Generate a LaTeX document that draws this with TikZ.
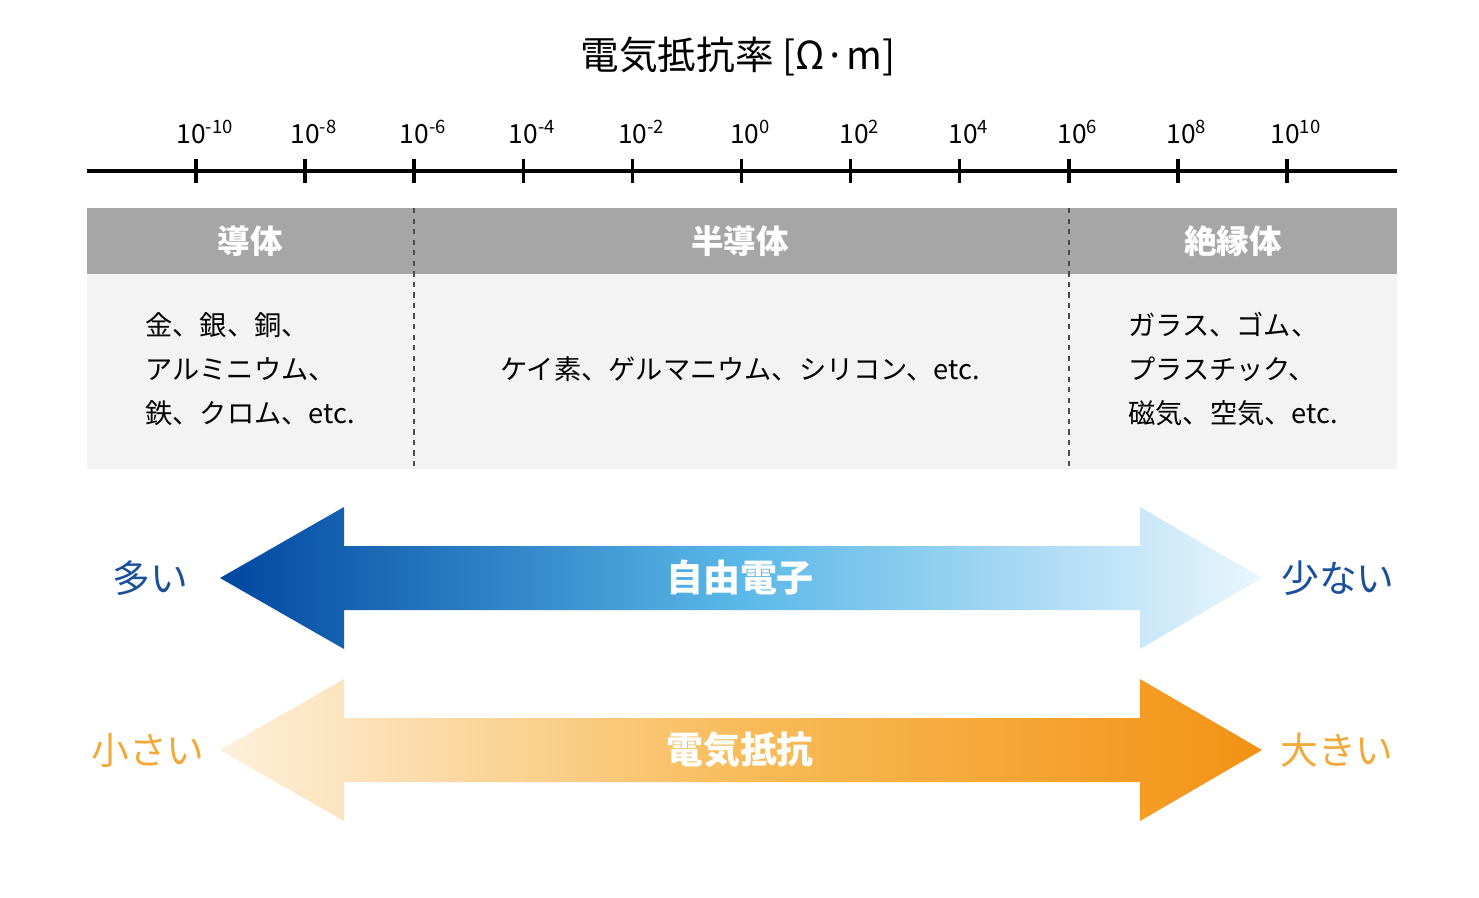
\documentclass[tikz,border=0pt]{standalone}
\usepackage{fontspec}
\setmainfont{Noto Sans CJK JP}
\usetikzlibrary{positioning}
\definecolor{hdgray}{HTML}{A6A6A6}
\definecolor{bodygray}{HTML}{F3F3F3}
\definecolor{eblue}{HTML}{0047A0}
\definecolor{eblue1}{HTML}{5BB8E8}
\definecolor{eblue2}{HTML}{EAF6FD}
\definecolor{lblue}{HTML}{1A4F9C}
\definecolor{rorange}{HTML}{F39214}
\definecolor{rorange1}{HTML}{F8BC5A}
\definecolor{rorange2}{HTML}{FDF0DC}
\definecolor{lorange}{HTML}{F3A93A}
\tikzset{
 x=0.02cm, y=-0.02cm,
 ticklabel/.style={font=\fontsize{15}{17}\selectfont, inner sep=0pt},
 headtext/.style={font=\fontsize{18.5}{20}\selectfont\bfseries, text=white},
 bodytext/.style={font=\fontsize{15.5}{25}\selectfont, align=left, inner sep=0pt},
 arrowtext/.style={font=\fontsize{21}{22}\selectfont\bfseries, text=white},
 sidetext/.style={font=\fontsize{21.5}{22}\selectfont},
}
\begin{document}
\begin{tikzpicture}
\useasboundingbox (0,0) rectangle (1479,897);

% title
\node[font=\fontsize{22}{24}\selectfont] (title) at (738,57) {電気抵抗率 [Ω·m]};

% axis
\draw[line width=2.2pt] (87,171) -- (1397,171);
\foreach \i/\e in {0/-10,1/-8,2/-6,3/-4,4/-2,5/0,6/2,7/4,8/6,9/8,10/10} {
 \draw[line width=2pt] (196+109.1*\i,159) -- (196+109.1*\i,183);
 \node[ticklabel] (t\i) at (205+109.1*\i,132) {10\textsuperscript{\e}};
}

% table
\fill[hdgray] (87,208) rectangle (1397,274);
\fill[bodygray] (87,274) rectangle (1397,469);
\draw[dashed, line width=0.6pt, gray!60!black] (414,208) -- (414,469);
\draw[dashed, line width=0.6pt, gray!60!black] (1069,208) -- (1069,469);
\node[headtext] (cond) at (250,241) {導体};
\node[headtext] (semi) at (740,241) {半導体};
\node[headtext] (insu) at (1233,241) {絶縁体};
\node[bodytext, anchor=west] (condb) at (145,369) {金、銀、銅、\\アルミニウム、\\鉄、クロム、etc.};
\node[bodytext] (semib) at (740,369) {ケイ素、ゲルマニウム、シリコン、etc.};
\node[bodytext, anchor=west] (insub) at (1128,369) {ガラス、ゴム、\\プラスチック、\\磁気、空気、etc.};

% free electrons arrow
\shade[left color=eblue, right color=eblue2, middle color=eblue1]
 (220,578) -- (344,507) -- (344,546) -- (1140,546) -- (1140,507) -- (1262,578)
 -- (1140,649) -- (1140,610) -- (344,610) -- (344,649) -- cycle;
\node[arrowtext] (elec) at (740,578) {自由電子};
\node[sidetext, text=lblue] (many) at (150,578) {多い};
\node[sidetext, text=lblue] (few) at (1338,578) {少ない};

% resistance arrow
\shade[left color=rorange2, right color=rorange, middle color=rorange1]
 (220,750) -- (344,679) -- (344,718) -- (1140,718) -- (1140,679) -- (1262,750)
 -- (1140,821) -- (1140,782) -- (344,782) -- (344,821) -- cycle;
\node[arrowtext] (res) at (740,750) {電気抵抗};
\node[sidetext, text=lorange] (small) at (148,750) {小さい};
\node[sidetext, text=lorange] (large) at (1337,750) {大きい};
\end{tikzpicture}
\end{document}
